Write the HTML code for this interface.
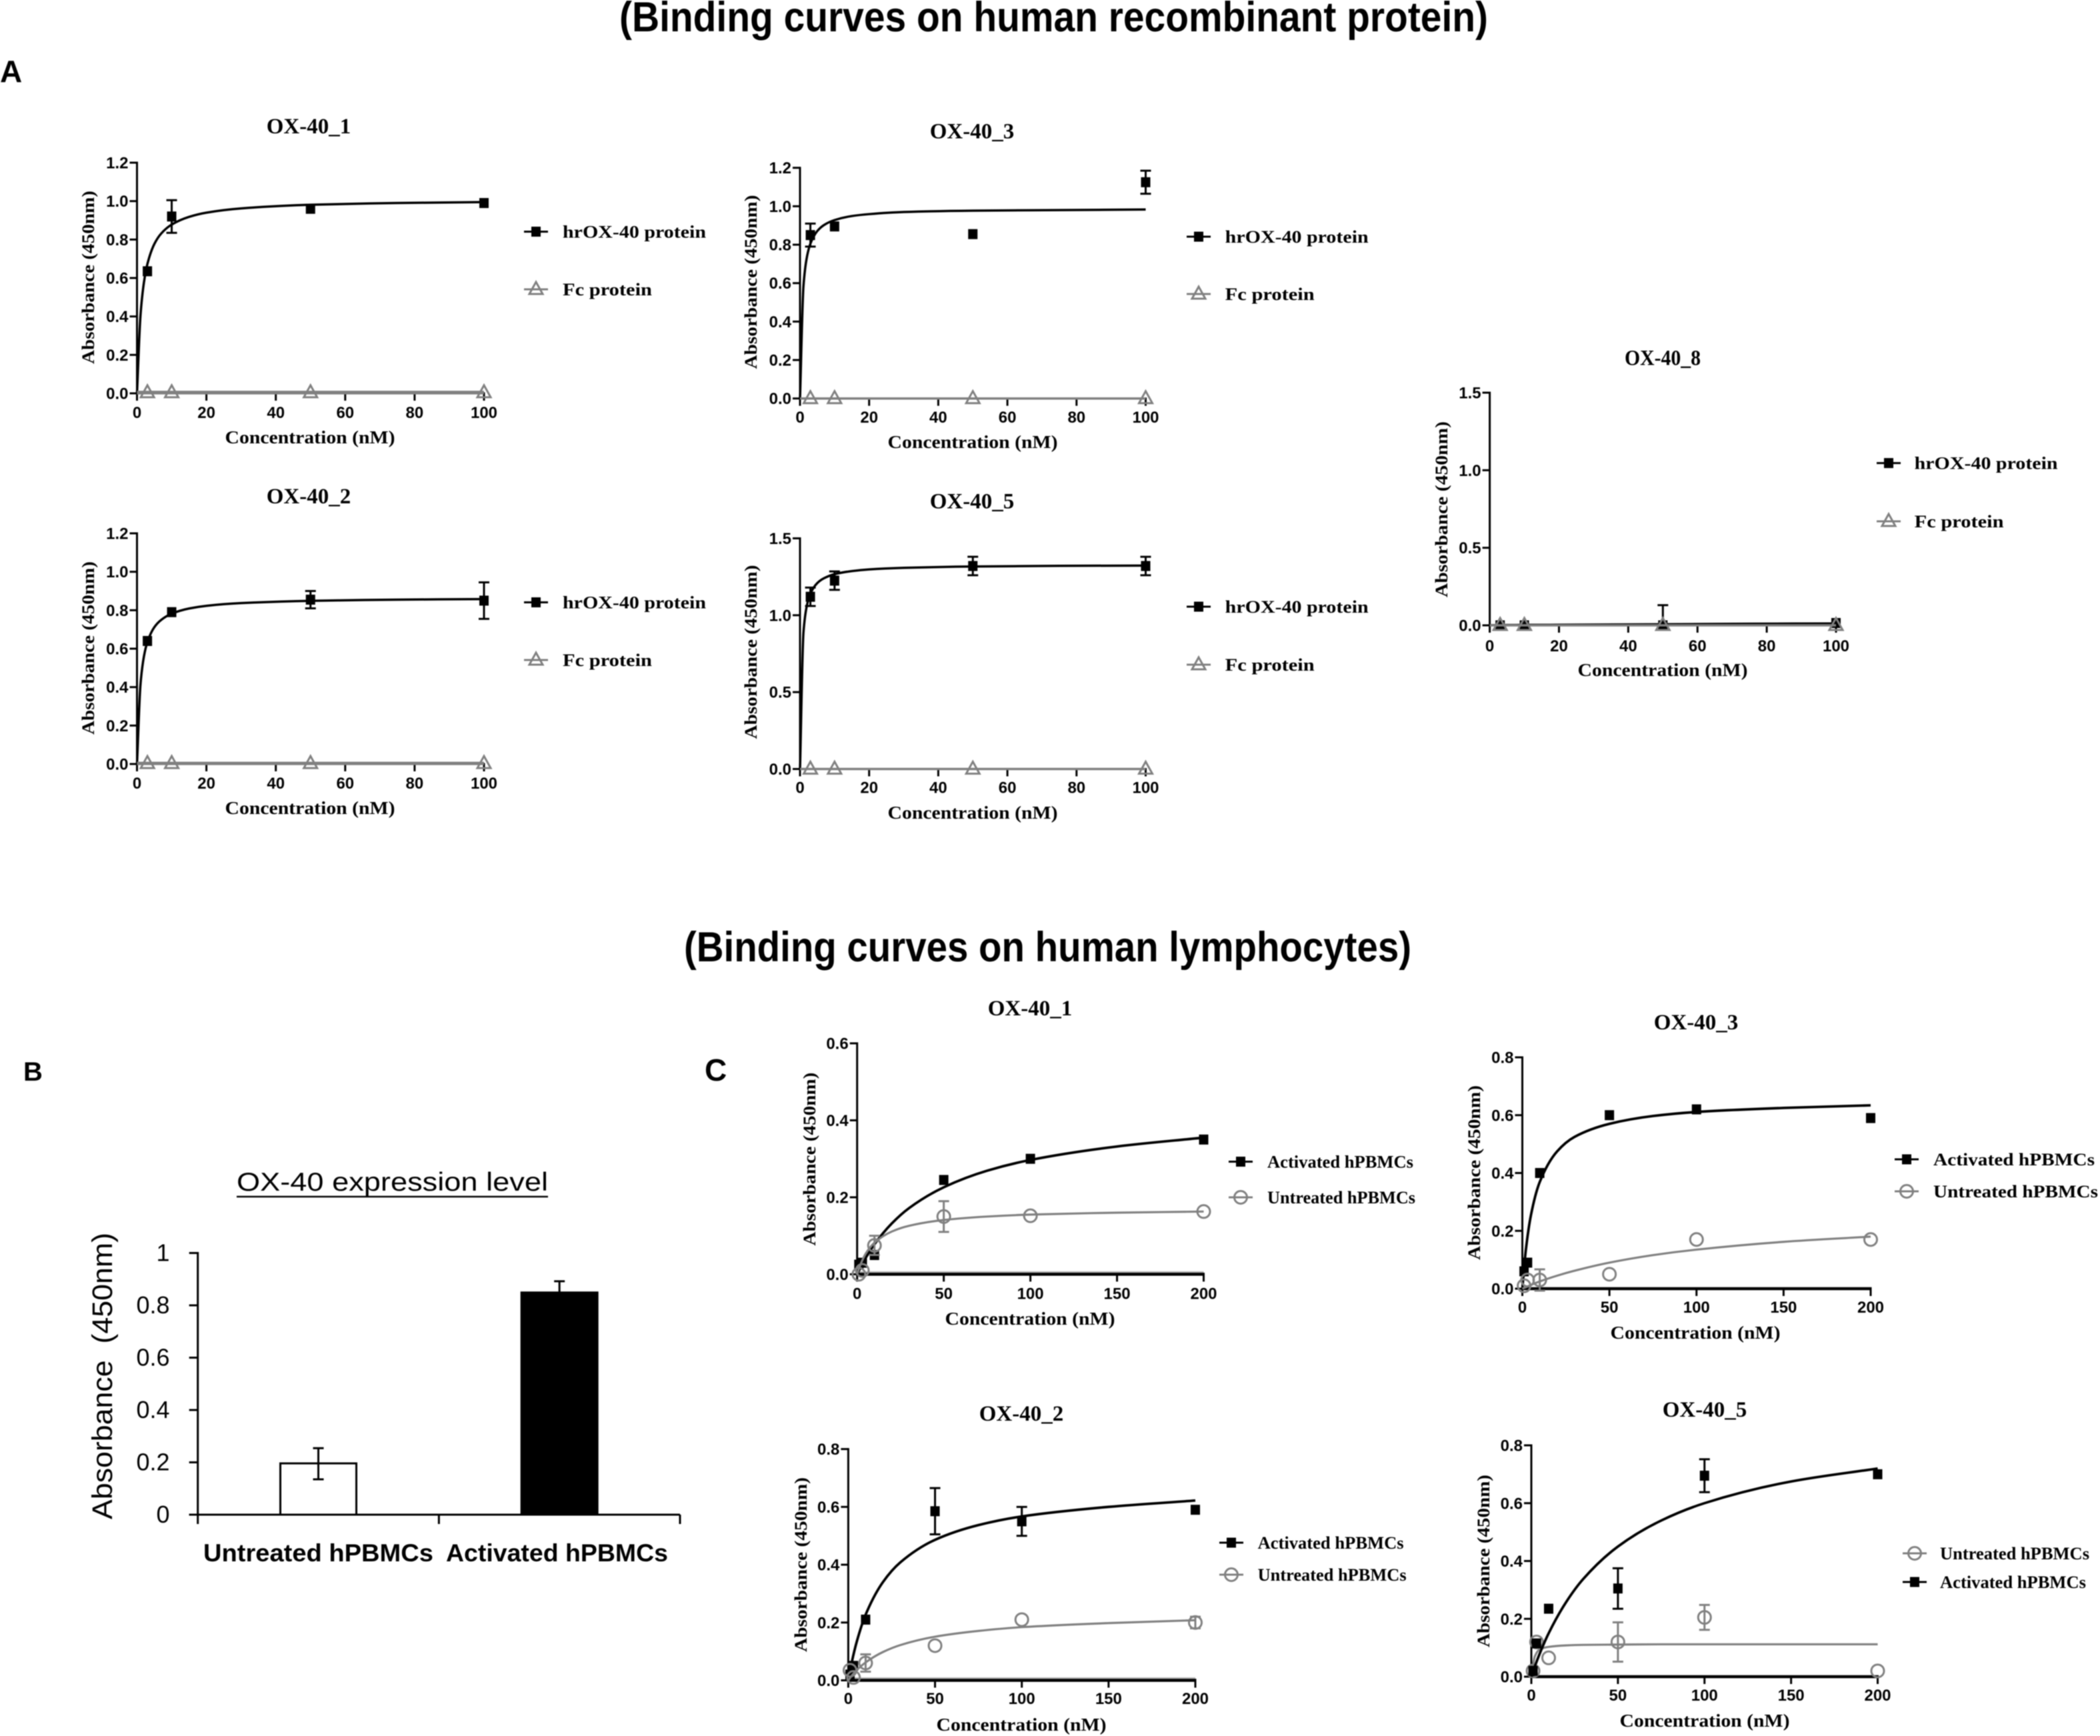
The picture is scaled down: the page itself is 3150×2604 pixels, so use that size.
<!DOCTYPE html>
<html lang="en">
<head>
<meta charset="utf-8">
<title>OX-40 binding curves</title>
<style>
html,body{margin:0;padding:0;background:#fff;}
body{width:3150px;height:2604px;overflow:hidden;}
svg{display:block;filter:blur(0.8px);}
</style>
</head>
<body>
<svg id="figure" xmlns="http://www.w3.org/2000/svg" width="3150" height="2604" viewBox="0 0 3150 2604">
  <rect x="0" y="0" width="3150" height="2604" fill="#fff"/>
  <text x="929" y="47" font-family="'Liberation Sans',sans-serif" font-weight="700" font-size="63" textLength="1303" lengthAdjust="spacingAndGlyphs">(Binding curves on human recombinant protein)</text>
  <text x="1026" y="1442" font-family="'Liberation Sans',sans-serif" font-weight="700" font-size="63" textLength="1091" lengthAdjust="spacingAndGlyphs">(Binding curves on human lymphocytes)</text>
  <text x="0" y="123" font-family="'Liberation Sans',sans-serif" font-weight="700" font-size="46">A</text>
  <text x="35" y="1621" font-family="'Liberation Sans',sans-serif" font-weight="700" font-size="40">B</text>
  <text x="1057" y="1621" font-family="'Liberation Sans',sans-serif" font-weight="700" font-size="46">C</text>
  <g id="charts"></g>
</svg>
<script>
/* ---------- shared axis values ---------- */
const concA = [3, 10, 50, 100];
const concC = [1, 3, 10, 50, 100, 200];
const fitXA = [0, 1, 2, 3, 5, 7, 10, 15, 20, 30, 50, 75, 100];
const fitXC = [0, 2, 5, 10, 20, 30, 50, 75, 100, 150, 200];
const xTicksA = ["0", "20", "40", "60", "80", "100"];
const xTicksC = ["0", "50", "100", "150", "200"];
const yTicks12 = ["0.0", "0.2", "0.4", "0.6", "0.8", "1.0", "1.2"];
const yTicks15 = ["0.0", "0.5", "1.0", "1.5"];
const yTicks06 = ["0.0", "0.2", "0.4", "0.6"];
const yTicks08 = ["0.0", "0.2", "0.4", "0.6", "0.8"];

/* ---------- panel A: recombinant protein ---------- */
const a1Hr = [0.635, 0.92, 0.96, 0.99];
const a1HrErr = [0, 0.085, 0, 0];
const a1HrFit = [0, 0.404, 0.577, 0.673, 0.777, 0.832, 0.878, 0.918, 0.94, 0.962, 0.981, 0.99, 0.995];
const a1Fc = [0.004, 0.004, 0.004, 0.004];
const a1FcFit = [0.004, 0.004, 0.004, 0.004, 0.004, 0.004, 0.004, 0.004, 0.004, 0.004, 0.004, 0.004, 0.004];

const a2Hr = [0.64, 0.79, 0.855, 0.85];
const a2HrErr = [0, 0, 0.045, 0.095];
const a2HrFit = [0, 0.413, 0.56, 0.635, 0.712, 0.75, 0.782, 0.809, 0.823, 0.837, 0.849, 0.855, 0.858];
const a2Fc = [0.003, 0.003, 0.003, 0.003];
const a2FcFit = [0.003, 0.003, 0.003, 0.003, 0.003, 0.003, 0.003, 0.003, 0.003, 0.003, 0.003, 0.003, 0.003];

const a3Hr = [0.85, 0.895, 0.855, 1.125];
const a3HrErr = [0.06, 0, 0, 0.06];
const a3HrFit = [0, 0.584, 0.736, 0.805, 0.871, 0.903, 0.928, 0.949, 0.959, 0.97, 0.977, 0.98, 0.983];
const a3Fc = [0, 0, 0, 0];
const a3FcFit = [0, 0, 0, 0, 0, 0, 0, 0, 0, 0, 0, 0, 0];

const a5Hr = [1.12, 1.225, 1.32, 1.32];
const a5HrErr = [0.06, 0.06, 0.06, 0.06];
const a5HrFit = [0, 0.887, 1.064, 1.14, 1.209, 1.241, 1.267, 1.287, 1.298, 1.308, 1.317, 1.321, 1.323];
const a5Fc = [0, 0, 0, 0];
const a5FcFit = [0, 0, 0, 0, 0, 0, 0, 0, 0, 0, 0, 0, 0];

const a8Hr = [0, 0, 0, 0.015];
const a8HrErrUp = [0, 0, 0.13, 0];
const a8HrErrLow = [0, 0, 0, 0];
const a8HrFit = [0, 0.001, 0.001, 0.001, 0.002, 0.002, 0.003, 0.003, 0.004, 0.005, 0.007, 0.01, 0.012];
const a8Fc = [0, 0, 0, 0];
const a8FcFit = [0, 0, 0, 0, 0, 0, 0, 0, 0, 0, 0, 0, 0];

/* ---------- panel B: expression bars ---------- */
const bCategories = ["Untreated hPBMCs", "Activated hPBMCs"];
const bValues = [0.196, 0.849];
const bErrUp = [0.058, 0.043];
const bErrLow = [0.061, 0];
const bTicks = ["0", "0.2", "0.4", "0.6", "0.8", "1"];

/* ---------- panel C: lymphocytes ---------- */
const c1Act = [0.025, 0.03, 0.05, 0.245, 0.3, 0.35];
const c1ActFit = [0, 0.018, 0.043, 0.078, 0.132, 0.172, 0.226, 0.269, 0.297, 0.332, 0.355];
const c1Unt = [0, 0.01, 0.075, 0.15, 0.152, 0.163];
const c1UntErr = [0, 0, 0.025, 0.04, 0, 0];
const c1UntFit = [0, 0.026, 0.054, 0.082, 0.111, 0.126, 0.141, 0.15, 0.155, 0.16, 0.163];

const c3Act = [0.06, 0.09, 0.4, 0.6, 0.62, 0.59];
const c3ActFit = [0, 0.133, 0.256, 0.369, 0.475, 0.525, 0.57, 0.597, 0.611, 0.625, 0.634];
const c3Unt = [0.01, 0.03, 0.03, 0.05, 0.17, 0.17];
const c3UntErr = [0, 0, 0.037, 0, 0, 0];
const c3UntFit = [0, 0.005, 0.013, 0.025, 0.045, 0.062, 0.09, 0.116, 0.135, 0.162, 0.18];

const c2Act = [0.02, 0.05, 0.21, 0.585, 0.55, 0.59];
const c2ActErr = [0, 0, 0, 0.08, 0.05, 0];
const c2ActFit = [0, 0.062, 0.136, 0.227, 0.34, 0.408, 0.486, 0.537, 0.567, 0.6, 0.622];
const c2Unt = [0.035, 0.01, 0.06, 0.12, 0.21, 0.2];
const c2UntErr = [0, 0, 0.03, 0, 0, 0.02];
const c2UntFit = [0, 0.016, 0.036, 0.062, 0.098, 0.122, 0.151, 0.171, 0.184, 0.198, 0.208];

const c5Unt = [0.02, 0.12, 0.065, 0.12, 0.205, 0.02];
const c5UntErr = [0, 0, 0, 0.068, 0.043, 0];
const c5UntFit = [0, 0.07, 0.095, 0.103, 0.108, 0.11, 0.111, 0.112, 0.112, 0.112, 0.112];
const c5Act = [0.02, 0.115, 0.235, 0.305, 0.695, 0.7];
const c5ActErr = [0, 0, 0, 0.07, 0.057, 0];
const c5ActFit = [0, 0.035, 0.082, 0.15, 0.257, 0.338, 0.45, 0.54, 0.6, 0.675, 0.72];

/* ---------- drawing helpers ---------- */
const SVGNS = "http://www.w3.org/2000/svg";
const root = document.getElementById("charts");
const SERIF = "'Liberation Serif',serif";
const SANS = "'Liberation Sans',sans-serif";
const GRAY = "#808080";

function make(tag, parent, attrs) {
  const el = document.createElementNS(SVGNS, tag);
  for (const k in attrs) el.setAttribute(k, attrs[k]);
  parent.appendChild(el);
  return el;
}
function segment(parent, x1, y1, x2, y2, color, w) {
  return make("line", parent, { x1: x1, y1: y1, x2: x2, y2: y2, stroke: color, "stroke-width": w });
}
function label(parent, str, x, y, size, family, bold, anchor, len) {
  const attrs = { x: x, y: y, "font-size": size, "font-family": family, "text-anchor": anchor, fill: "#000" };
  if (bold) attrs["font-weight"] = "700";
  if (len) { attrs.textLength = len; attrs.lengthAdjust = "spacingAndGlyphs"; }
  const el = make("text", parent, attrs);
  el.textContent = str;
  return el;
}
function smoothPath(pts) {
  const n = pts.length, d = [], m = [];
  for (let i = 0; i < n - 1; i++) d.push((pts[i + 1][1] - pts[i][1]) / (pts[i + 1][0] - pts[i][0]));
  m.push(d[0]);
  for (let i = 1; i < n - 1; i++) {
    if (d[i - 1] * d[i] <= 0) { m.push(0); continue; }
    const h0 = pts[i][0] - pts[i - 1][0], h1 = pts[i + 1][0] - pts[i][0];
    m.push((h0 + h1) * 3 / ((2 * h1 + h0) / d[i - 1] + (h1 + 2 * h0) / d[i]));
  }
  m.push(d[n - 2]);
  let p = "M" + pts[0][0].toFixed(2) + " " + pts[0][1].toFixed(2);
  for (let i = 0; i < n - 1; i++) {
    const h = (pts[i + 1][0] - pts[i][0]) / 3;
    p += "C" + (pts[i][0] + h).toFixed(2) + " " + (pts[i][1] + m[i] * h).toFixed(2) + " " +
      (pts[i + 1][0] - h).toFixed(2) + " " + (pts[i + 1][1] - m[i + 1] * h).toFixed(2) + " " +
      pts[i + 1][0].toFixed(2) + " " + pts[i + 1][1].toFixed(2);
  }
  return p;
}
function marker(parent, shape, cx, cy, color) {
  if (shape === "square") {
    return make("rect", parent, { x: cx - 7, y: cy - 7.5, width: 14, height: 15, fill: color });
  }
  if (shape === "triangle") {
    return make("polygon", parent, {
      points: (cx) + "," + (cy - 11) + " " + (cx - 10) + "," + (cy + 7) + " " + (cx + 10) + "," + (cy + 7),
      fill: "none", stroke: color, "stroke-width": 3
    });
  }
  return make("circle", parent, { cx: cx, cy: cy, r: 9.5, fill: "none", stroke: color, "stroke-width": 3 });
}

function drawPanel(p) {
  const g = make("g", root, {});
  
  
  const xMax = Number(p.xTicks[p.xTicks.length - 1]);
  const yMax = Number(p.yTicks[p.yTicks.length - 1]);
  const sx = v => p.x0 + v / xMax * (p.x1 - p.x0);
  const sy = v => p.yBot - v / yMax * (p.yBot - p.yTop);

  const title = label(g, p.title, p.titleX, p.titleY, 33, SERIF, true, "middle", p.titleW);
  
  

  const yTitle = label(g, "Absorbance (450nm)", 0, 0, 26, SERIF, true, "middle", p.yLabelLen);
  yTitle.setAttribute("transform", "translate(" + p.yLabelX + " " + p.yLabelY + ") rotate(-90)");
  
  

  const xTitle = label(g, "Concentration (nM)", p.xLabelX, p.xLabelY, 27, SERIF, true, "middle", 255);
  
  

  if (p.grayBase) {
    const gb = segment(g, p.x0, p.yBot - 3, p.x1, p.yBot - 3, "#b5b5b5", 3);
    
    
  }
  const yAxis = segment(g, p.x0, p.yTop - 1.5, p.x0, p.yBot + 1.5, "#000", 3);
  
  
  const xAxis = segment(g, p.x0 - 1.5, p.yBot, p.x1 + 1.5, p.yBot, "#000", p.axisW);
  
  

  p.yTicks.forEach(function (t) {
    const v = Number(t);
    const tick = segment(g, p.x0 - 11, sy(v), p.x0, sy(v), "#000", 3);
    
    
    const tl = label(g, t, p.x0 - 13, sy(v) + 8.5, 24, SANS, true, "end");
    
    
  });
  p.xTicks.forEach(function (t) {
    const v = Number(t);
    const tick = segment(g, sx(v), p.yBot, sx(v), p.yBot + 11, "#000", 3);
    
    
    const tl = label(g, t, sx(v), p.xTickY, 24, SANS, true, "middle");
    
    
  });

  p.series.forEach(function (s, si) {
    const sg = make("g", g, {});
    
    
    const fitPts = p.fitX.map((x, i) => [sx(x), sy(s.fit[i])]);
    const fit = make("path", sg, { d: smoothPath(fitPts), fill: "none", stroke: s.color, "stroke-width": p.fcLineW && s.key === "fc" ? p.fcLineW : s.lineW });
    
    
    p.conc.forEach(function (x, i) {
      const up = s.errUp ? s.errUp[i] : 0;
      const low = s.errLow ? s.errLow[i] : up;
      if (up > 0 || low > 0) {
        const eb = make("g", sg, {});
        
        
        const top = sy(s.values[i] + up), bottom = sy(s.values[i] - low);
        segment(eb, sx(x), top, sx(x), bottom, s.color, 3);
        if (up > 0) segment(eb, sx(x) - 8, top, sx(x) + 8, top, s.color, 3);
        if (low > 0) segment(eb, sx(x) - 8, bottom, sx(x) + 8, bottom, s.color, 3);
      }
      const mk = marker(sg, s.shape, sx(x), sy(s.values[i]), s.color);
      
      
    });

    const lg = make("g", g, {});
    
    
    const ly = p.legendY[si];
    segment(lg, p.legendX, ly, p.legendX + 36, ly, s.color, 3);
    marker(lg, s.shape, p.legendX + 18, ly, s.color);
    label(lg, s.name, p.legendTextX, ly + 9, 26, SERIF, true, "start", s.nameW);
  });
}

/* ---------- panel layouts ---------- */
function hrFc(hr, hrErrUp, hrErrLow, hrFit, fc, fcFit) {
  return [
    { key: "hrox40", name: "hrOX-40 protein", nameW: 215, shape: "square", color: "#000", lineW: 3.5, values: hr, errUp: hrErrUp, errLow: hrErrLow, fit: hrFit },
    { key: "fc", name: "Fc protein", nameW: 134, shape: "triangle", color: GRAY, lineW: 3.5, values: fc, fit: fcFit }
  ];
}
function actUnt(aName, uName, act, actErr, actFit, unt, untErr, untFit, aW, uW, untFirst) {
  const a = { key: "activated", name: aName, nameW: aW, shape: "square", color: "#000", lineW: 3.8, values: act, errUp: actErr, fit: actFit };
  const u = { key: "untreated", name: uName, nameW: uW, shape: "circle", color: GRAY, lineW: 3.2, values: unt, errUp: untErr, fit: untFit };
  return untFirst ? [u, a] : [a, u];
}
const AN = "Activated hPBMCs", UN = "Untreated hPBMCs";

const panels = [
  { id: "a-ox40-1", title: "OX-40_1", titleX: 463, titleY: 200, x0: 205.5, x1: 726, yTop: 244, yBot: 590, axisW: 3, fcLineW: 5.5, xTickY: 627, xLabelX: 465, xLabelY: 665, yLabelX: 141, yLabelY: 416, yLabelLen: 260, xTicks: xTicksA, yTicks: yTicks12, conc: concA, fitX: fitXA, legendX: 786, legendTextX: 844, legendY: [347.5, 434], series: hrFc(a1Hr, a1HrErr, null, a1HrFit, a1Fc, a1FcFit) },
  { id: "a-ox40-2", title: "OX-40_2", titleX: 463, titleY: 755, x0: 205.5, x1: 726, yTop: 800, yBot: 1146, axisW: 3, fcLineW: 5, xTickY: 1183, xLabelX: 465, xLabelY: 1221, yLabelX: 141, yLabelY: 972, yLabelLen: 260, xTicks: xTicksA, yTicks: yTicks12, conc: concA, fitX: fitXA, legendX: 786, legendTextX: 844, legendY: [903.5, 990], series: hrFc(a2Hr, a2HrErr, null, a2HrFit, a2Fc, a2FcFit) },
  { id: "a-ox40-3", title: "OX-40_3", titleX: 1458, titleY: 207.5, x0: 1200, x1: 1718.5, yTop: 251.7, yBot: 597.7, axisW: 3, xTickY: 634, xLabelX: 1459, xLabelY: 672, yLabelX: 1135, yLabelY: 423, yLabelLen: 261, xTicks: xTicksA, yTicks: yTicks12, conc: concA, fitX: fitXA, legendX: 1780, legendTextX: 1837.7, legendY: [355, 441], series: hrFc(a3Hr, a3HrErr, null, a3HrFit, a3Fc, a3FcFit) },
  { id: "a-ox40-5", title: "OX-40_5", titleX: 1458, titleY: 762.5, x0: 1200, x1: 1718.5, yTop: 807.5, yBot: 1153.5, axisW: 3, xTickY: 1189.5, xLabelX: 1459, xLabelY: 1228, yLabelX: 1135, yLabelY: 978, yLabelLen: 261, xTicks: xTicksA, yTicks: yTicks15, conc: concA, fitX: fitXA, legendX: 1780, legendTextX: 1837.7, legendY: [910, 997], series: hrFc(a5Hr, a5HrErr, null, a5HrFit, a5Fc, a5FcFit) },
  { id: "a-ox40-8", title: "OX-40_8", titleX: 2494, titleY: 547.5, titleW: 114, x0: 2234.6, x1: 2754, yTop: 589, yBot: 938, axisW: 3, xTickY: 977, xLabelX: 2494, xLabelY: 1014, yLabelX: 2171, yLabelY: 764, yLabelLen: 264, xTicks: xTicksA, yTicks: yTicks15, conc: concA, fitX: fitXA, legendX: 2815, legendTextX: 2871.6, legendY: [694.6, 782], series: hrFc(a8Hr, a8HrErrUp, a8HrErrLow, a8HrFit, a8Fc, a8FcFit) },
  { id: "c-ox40-1", title: "OX-40_1", titleX: 1545, titleY: 1523, x0: 1285.7, x1: 1805.5, yTop: 1565, yBot: 1911.4, axisW: 4.5, grayBase: true, xTickY: 1948.6, xLabelX: 1545, xLabelY: 1987, yLabelX: 1223, yLabelY: 1738.6, yLabelLen: 260, xTicks: xTicksC, yTicks: yTicks06, conc: concC, fitX: fitXC, legendX: 1843, legendTextX: 1901, legendY: [1742.5, 1796], series: actUnt(AN, UN, c1Act, null, c1ActFit, c1Unt, c1UntErr, c1UntFit, 219, 222, false) },
  { id: "c-ox40-3", title: "OX-40_3", titleX: 2544, titleY: 1544, x0: 2283.5, x1: 2806, yTop: 1586, yBot: 1933, axisW: 4.5, xTickY: 1969, xLabelX: 2543, xLabelY: 2008, yLabelX: 2220, yLabelY: 1759, yLabelLen: 262, xTicks: xTicksC, yTicks: yTicks08, conc: concC, fitX: fitXC, legendX: 2842, legendTextX: 2900, legendY: [1739, 1787], series: actUnt(AN, UN, c3Act, null, c3ActFit, c3Unt, c3UntErr, c3UntFit, 242, 247, false) },
  { id: "c-ox40-2", title: "OX-40_2", titleX: 1532, titleY: 2131, x0: 1272.4, x1: 1793, yTop: 2173.6, yBot: 2520.5, axisW: 4.5, grayBase: true, xTickY: 2556, xLabelX: 1532, xLabelY: 2596, yLabelX: 1210, yLabelY: 2347, yLabelLen: 262, xTicks: xTicksC, yTicks: yTicks08, conc: concC, fitX: fitXC, legendX: 1829, legendTextX: 1886.6, legendY: [2314, 2362], series: actUnt(AN, UN, c2Act, c2ActErr, c2ActFit, c2Unt, c2UntErr, c2UntFit, 219, 223, false) },
  { id: "c-ox40-5", title: "OX-40_5", titleX: 2557, titleY: 2125, x0: 2297, x1: 2816.5, yTop: 2168, yBot: 2515, axisW: 4.5, xTickY: 2551, xLabelX: 2557, xLabelY: 2590, yLabelX: 2234, yLabelY: 2341.5, yLabelLen: 259, xTicks: xTicksC, yTicks: yTicks08, conc: concC, fitX: fitXC, legendX: 2854, legendTextX: 2910, legendY: [2330, 2373], series: actUnt(AN, UN, c5Act, c5ActErr, c5ActFit, c5Unt, c5UntErr, c5UntFit, 219, 224, true) }
];
panels.forEach(drawPanel);

/* ---------- panel B bar chart ---------- */
(function drawBars() {
  const g = make("g", root, {});
  
  
  const left = 296.7, right = 1020, top = 1879.5, bottom = 2272;
  const yMax = Number(bTicks[bTicks.length - 1]);
  const sy = v => bottom - v / yMax * (bottom - top);
  const band = (right - left) / bCategories.length;
  const barW = 114;
  const catLabelX = [477.5, 835.5];
  const catLabelW = [345, 333];

  const title = label(g, "OX-40 expression level", 355, 1786, 39, SANS, false, "start", 467);
  
  
  const ul = segment(g, 355, 1795, 822, 1795, "#000", 2.5);
  
  

  const yTitle = label(g, "Absorbance  (450nm)", 0, 0, 43, SANS, false, "middle", 430);
  yTitle.setAttribute("style", "white-space:pre");
  yTitle.setAttribute("transform", "translate(168 2064) rotate(-90)");
  
  

  bCategories.forEach(function (c, i) {
    const cx = left + band * (i + 0.5);
    const bar = make("rect", g, {
      x: cx - barW / 2, y: sy(bValues[i]), width: barW, height: bottom - sy(bValues[i]),
      fill: i === 0 ? "#fff" : "#000", stroke: "#000", "stroke-width": 3
    });
    
    
    const eb = make("g", g, {});
    
    
    const t = sy(bValues[i] + bErrUp[i]), b = sy(bValues[i] - bErrLow[i]);
    segment(eb, cx, t, cx, b, "#000", 3);
    segment(eb, cx - 8, t, cx + 8, t, "#000", 3);
    if (bErrLow[i] > 0) segment(eb, cx - 8, b, cx + 8, b, "#000", 3);
    const cl = label(g, c, catLabelX[i], 2342, 37, SANS, true, "middle", catLabelW[i]);
    
    
  });

  const yAxis = segment(g, left, top - 1.5, left, bottom, "#000", 3);
  
  
  const xAxis = segment(g, left - 13, bottom, right, bottom, "#000", 3);
  
  
  for (let i = 0; i <= bCategories.length; i++) {
    const tx = left + band * i;
    const tick = segment(g, tx, bottom, tx, bottom + 14, "#000", 3);
    
    
  }
  bTicks.forEach(function (t) {
    const v = Number(t);
    const tick = segment(g, left - 13, sy(v), left, sy(v), "#000", 3);
    
    
    const tl = label(g, t, 254.5, sy(v) + 12, 36, SANS, false, "end");
    
    
  });
})();
</script>
</body>
</html>
